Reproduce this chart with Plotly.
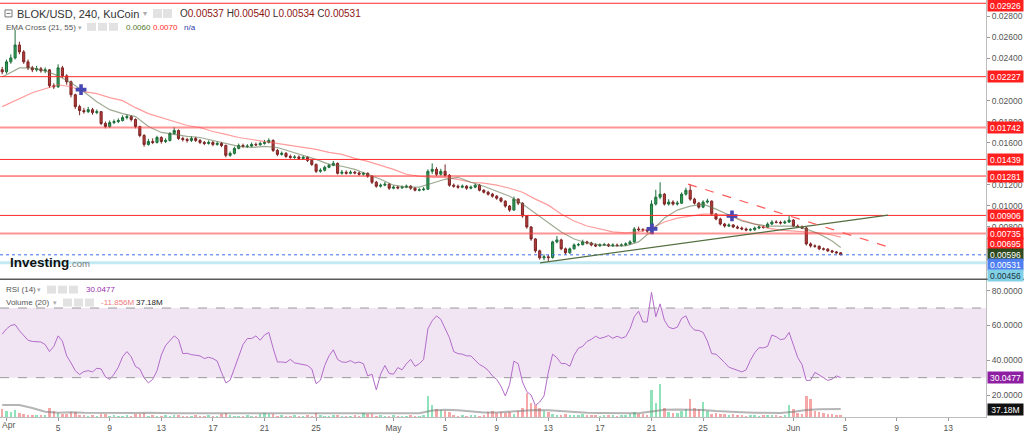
import plotly.graph_objects as go
import pandas as pd

# ---------------- data (8-hour candles) ----------------
candle_start = "2022-03-31 16:00"
opens = [
 0.02293, 0.02273, 0.02368, 0.02406, 0.02529, 0.02463, 0.02368, 0.02311, 0.02292, 0.02302,
 0.02283, 0.02292, 0.02141, 0.02131, 0.02311, 0.02235, 0.02178, 0.02055, 0.01942, 0.01904,
 0.01894, 0.01913, 0.01885, 0.01894, 0.01781, 0.01752, 0.01790, 0.01800, 0.01809, 0.01838,
 0.01847, 0.01819, 0.01752, 0.01667, 0.01582, 0.01610, 0.01601, 0.01648, 0.01610, 0.01620,
 0.01686, 0.01714, 0.01639, 0.01629, 0.01620, 0.01639, 0.01620, 0.01601, 0.01591, 0.01601,
 0.01582, 0.01591, 0.01572, 0.01478, 0.01497, 0.01544, 0.01572, 0.01563, 0.01566, 0.01582,
 0.01578, 0.01591, 0.01601, 0.01620, 0.01525, 0.01487, 0.01497, 0.01468, 0.01459, 0.01462,
 0.01449, 0.01459, 0.01430, 0.01392, 0.01326, 0.01336, 0.01364, 0.01383, 0.01402, 0.01307,
 0.01317, 0.01307, 0.01317, 0.01310, 0.01298, 0.01307, 0.01279, 0.01222, 0.01184, 0.01194,
 0.01203, 0.01165, 0.01175, 0.01168, 0.01175, 0.01184, 0.01165, 0.01146, 0.01150, 0.01156,
 0.01326, 0.01345, 0.01298, 0.01326, 0.01288, 0.01194, 0.01184, 0.01175, 0.01184, 0.01165,
 0.01175, 0.01194, 0.01146, 0.01127, 0.01108, 0.01089, 0.01070, 0.01042, 0.00995, 0.00957,
 0.01061, 0.01023, 0.00900, 0.00796, 0.00682, 0.00569, 0.00502, 0.00512, 0.00505, 0.00654,
 0.00673, 0.00588, 0.00550, 0.00588, 0.00625, 0.00628, 0.00654, 0.00644, 0.00625, 0.00616,
 0.00625, 0.00628, 0.00616, 0.00625, 0.00619, 0.00625, 0.00635, 0.00654, 0.00777, 0.00770,
 0.00767, 0.00758, 0.01014, 0.01080, 0.01108, 0.01014, 0.01033, 0.01014, 0.01023, 0.01108,
 0.01146, 0.01061, 0.01023, 0.00985, 0.01033, 0.01042, 0.00919, 0.00872, 0.00824, 0.00805,
 0.00815, 0.00796, 0.00786, 0.00777, 0.00767, 0.00770, 0.00786, 0.00796, 0.00793, 0.00824,
 0.00843, 0.00840, 0.00834, 0.00843, 0.00862, 0.00805, 0.00796, 0.00786, 0.00635, 0.00616,
 0.00612, 0.00588, 0.00585, 0.00569, 0.00559, 0.00550]
highs = [
 0.02320, 0.02390, 0.02440, 0.02671, 0.02560, 0.02480, 0.02390, 0.02330, 0.02330, 0.02320,
 0.02315, 0.02300, 0.02165, 0.02345, 0.02330, 0.02250, 0.02190, 0.02065, 0.01960, 0.01930,
 0.01940, 0.01930, 0.01915, 0.01900, 0.01800, 0.01810, 0.01820, 0.01830, 0.01860, 0.01870,
 0.01860, 0.01830, 0.01760, 0.01680, 0.01635, 0.01640, 0.01665, 0.01660, 0.01640, 0.01700,
 0.01745, 0.01725, 0.01655, 0.01645, 0.01660, 0.01655, 0.01635, 0.01615, 0.01620, 0.01615,
 0.01610, 0.01605, 0.01580, 0.01515, 0.01560, 0.01590, 0.01590, 0.01585, 0.01600, 0.01600,
 0.01610, 0.01625, 0.01640, 0.01630, 0.01540, 0.01515, 0.01510, 0.01485, 0.01480, 0.01478,
 0.01475, 0.01470, 0.01440, 0.01400, 0.01355, 0.01380, 0.01400, 0.01425, 0.01410, 0.01340,
 0.01335, 0.01335, 0.01330, 0.01325, 0.01320, 0.01315, 0.01290, 0.01235, 0.01210, 0.01225,
 0.01215, 0.01190, 0.01190, 0.01190, 0.01200, 0.01195, 0.01175, 0.01165, 0.01175, 0.01345,
 0.01402, 0.01365, 0.01350, 0.01392, 0.01300, 0.01210, 0.01200, 0.01200, 0.01195, 0.01190,
 0.01210, 0.01205, 0.01155, 0.01140, 0.01120, 0.01100, 0.01080, 0.01050, 0.01005, 0.01085,
 0.01070, 0.01030, 0.00910, 0.00805, 0.00690, 0.00580, 0.00535, 0.00530, 0.00665, 0.00710,
 0.00685, 0.00600, 0.00600, 0.00640, 0.00645, 0.00675, 0.00665, 0.00655, 0.00640, 0.00640,
 0.00645, 0.00640, 0.00640, 0.00638, 0.00640, 0.00650, 0.00670, 0.00795, 0.00800, 0.00785,
 0.00780, 0.01050, 0.01150, 0.01222, 0.01120, 0.01060, 0.01050, 0.01045, 0.01125, 0.01170,
 0.01203, 0.01075, 0.01035, 0.01050, 0.01065, 0.01050, 0.00930, 0.00885, 0.00835, 0.00830,
 0.00825, 0.00810, 0.00800, 0.00790, 0.00785, 0.00800, 0.00810, 0.00810, 0.00840, 0.00860,
 0.00860, 0.00855, 0.00860, 0.00900, 0.00870, 0.00820, 0.00810, 0.00795, 0.00650, 0.00630,
 0.00622, 0.00600, 0.00595, 0.00578, 0.00568, 0.00558]
lows = [
 0.02250, 0.02255, 0.02350, 0.02390, 0.02440, 0.02350, 0.02290, 0.02270, 0.02275, 0.02265,
 0.02260, 0.02120, 0.02110, 0.02120, 0.02215, 0.02150, 0.02030, 0.01920, 0.01860, 0.01875,
 0.01880, 0.01865, 0.01870, 0.01765, 0.01735, 0.01740, 0.01775, 0.01785, 0.01800, 0.01820,
 0.01800, 0.01735, 0.01650, 0.01560, 0.01570, 0.01585, 0.01590, 0.01590, 0.01595, 0.01610,
 0.01675, 0.01625, 0.01610, 0.01600, 0.01605, 0.01605, 0.01585, 0.01575, 0.01580, 0.01565,
 0.01570, 0.01555, 0.01460, 0.01465, 0.01485, 0.01535, 0.01550, 0.01548, 0.01555, 0.01565,
 0.01570, 0.01580, 0.01590, 0.01510, 0.01470, 0.01475, 0.01455, 0.01445, 0.01445, 0.01435,
 0.01438, 0.01415, 0.01378, 0.01310, 0.01312, 0.01325, 0.01355, 0.01375, 0.01295, 0.01295,
 0.01295, 0.01298, 0.01298, 0.01285, 0.01285, 0.01265, 0.01205, 0.01170, 0.01170, 0.01185,
 0.01150, 0.01155, 0.01155, 0.01160, 0.01165, 0.01150, 0.01135, 0.01135, 0.01140, 0.01148,
 0.01300, 0.01280, 0.01285, 0.01275, 0.01180, 0.01170, 0.01160, 0.01165, 0.01150, 0.01155,
 0.01165, 0.01135, 0.01115, 0.01095, 0.01075, 0.01055, 0.01030, 0.00980, 0.00940, 0.00950,
 0.01005, 0.00885, 0.00780, 0.00665, 0.00550, 0.00485, 0.00480, 0.00464, 0.00495, 0.00640,
 0.00575, 0.00535, 0.00540, 0.00580, 0.00612, 0.00620, 0.00630, 0.00612, 0.00605, 0.00608,
 0.00615, 0.00605, 0.00608, 0.00608, 0.00610, 0.00615, 0.00625, 0.00645, 0.00755, 0.00750,
 0.00740, 0.00745, 0.01000, 0.01060, 0.01000, 0.01000, 0.01000, 0.01000, 0.01015, 0.01095,
 0.01045, 0.01010, 0.00970, 0.00975, 0.01020, 0.00905, 0.00860, 0.00810, 0.00790, 0.00795,
 0.00785, 0.00775, 0.00765, 0.00755, 0.00755, 0.00760, 0.00775, 0.00780, 0.00785, 0.00815,
 0.00830, 0.00820, 0.00825, 0.00835, 0.00795, 0.00785, 0.00775, 0.00620, 0.00600, 0.00598,
 0.00575, 0.00572, 0.00558, 0.00548, 0.00540, 0.00528]
closes = [
 0.02273, 0.02368, 0.02406, 0.02529, 0.02463, 0.02368, 0.02311, 0.02292, 0.02302, 0.02283,
 0.02292, 0.02141, 0.02131, 0.02311, 0.02235, 0.02178, 0.02055, 0.01942, 0.01904, 0.01894,
 0.01913, 0.01885, 0.01894, 0.01781, 0.01752, 0.01790, 0.01800, 0.01809, 0.01838, 0.01847,
 0.01819, 0.01752, 0.01667, 0.01582, 0.01610, 0.01601, 0.01648, 0.01610, 0.01620, 0.01686,
 0.01714, 0.01639, 0.01629, 0.01620, 0.01639, 0.01620, 0.01601, 0.01591, 0.01601, 0.01582,
 0.01591, 0.01572, 0.01478, 0.01497, 0.01544, 0.01572, 0.01563, 0.01566, 0.01582, 0.01578,
 0.01591, 0.01601, 0.01620, 0.01525, 0.01487, 0.01497, 0.01468, 0.01459, 0.01462, 0.01449,
 0.01459, 0.01430, 0.01392, 0.01326, 0.01336, 0.01364, 0.01383, 0.01402, 0.01307, 0.01317,
 0.01307, 0.01317, 0.01310, 0.01298, 0.01307, 0.01279, 0.01222, 0.01184, 0.01194, 0.01203,
 0.01165, 0.01175, 0.01168, 0.01175, 0.01184, 0.01165, 0.01146, 0.01150, 0.01156, 0.01326,
 0.01345, 0.01298, 0.01326, 0.01288, 0.01194, 0.01184, 0.01175, 0.01184, 0.01165, 0.01175,
 0.01194, 0.01146, 0.01127, 0.01108, 0.01089, 0.01070, 0.01042, 0.00995, 0.00957, 0.01061,
 0.01023, 0.00900, 0.00796, 0.00682, 0.00569, 0.00502, 0.00512, 0.00505, 0.00654, 0.00673,
 0.00588, 0.00550, 0.00588, 0.00625, 0.00628, 0.00654, 0.00644, 0.00625, 0.00616, 0.00625,
 0.00628, 0.00616, 0.00625, 0.00619, 0.00625, 0.00635, 0.00654, 0.00777, 0.00770, 0.00767,
 0.00758, 0.01014, 0.01080, 0.01108, 0.01014, 0.01033, 0.01014, 0.01023, 0.01108, 0.01146,
 0.01061, 0.01023, 0.00985, 0.01033, 0.01042, 0.00919, 0.00872, 0.00824, 0.00805, 0.00815,
 0.00796, 0.00786, 0.00777, 0.00767, 0.00770, 0.00786, 0.00796, 0.00793, 0.00824, 0.00843,
 0.00840, 0.00834, 0.00843, 0.00862, 0.00805, 0.00796, 0.00786, 0.00635, 0.00616, 0.00612,
 0.00588, 0.00585, 0.00569, 0.00559, 0.00550, 0.00531]
volumes_m = [
 37, 28, 23, 33, 19, 14, 9, 9, 9, 9,
 9, 46, 28, 19, 14, 14, 23, 23, 9, 9,
 7, 9, 7, 14, 14, 7, 9, 5, 7, 9,
 7, 14, 14, 19, 7, 9, 7, 5, 9, 7,
 9, 12, 7, 5, 7, 9, 5, 7, 9, 5,
 7, 14, 19, 9, 7, 5, 7, 9, 5, 7,
 14, 19, 14, 14, 7, 9, 5, 7, 9, 7,
 5, 9, 7, 19, 9, 7, 5, 9, 12, 7,
 5, 7, 9, 7, 19, 14, 14, 7, 9, 5,
 7, 9, 7, 5, 7, 9, 7, 5, 9, 102,
 56, 37, 33, 28, 23, 9, 7, 9, 7, 9,
 9, 7, 9, 23, 28, 19, 23, 19, 23, 14,
 28, 46, 112, 65, 56, 42, 28, 23, 14, 12,
 9, 14, 9, 12, 9, 14, 9, 12, 9, 7,
 9, 12, 9, 7, 9, 12, 14, 23, 14, 14,
 12, 126, 65, 158, 46, 23, 19, 19, 28, 37,
 88, 46, 37, 74, 28, 14, 19, 14, 14, 9,
 14, 9, 9, 7, 9, 9, 7, 9, 12, 9,
 9, 7, 9, 56, 37, 19, 14, 102, 88, 28,
 23, 19, 14, 14, 9, 9]
rsi14 = [
 55, 58, 60, 60.5, 57, 54.5, 51.5, 50.8, 50.5, 50.5,
 49, 45, 48, 54, 51, 42.5, 38.5, 34, 31.8, 33.5,
 34, 33.3, 35.4, 35, 30.5, 29, 32, 36, 42, 45,
 42, 36.4, 35, 30, 27, 29, 34, 43, 48.5, 51.5,
 54, 52, 43.8, 44, 43.2, 42.9, 42.5, 41, 41.7, 41,
 39.5, 33, 27, 28.5, 35, 42, 49, 52.5, 52.5, 54,
 51.5, 54.5, 56, 47, 39, 39, 38.7, 40.5, 38.5, 38,
 37.5, 37, 35, 26.5, 28.5, 37, 42.5, 46, 40.5, 39,
 38.8, 39.8, 38.4, 39, 38, 31, 32, 23, 32, 37,
 32.4, 32, 35.8, 34.5, 38, 40.5, 36.5, 38, 40.5, 58,
 62.7, 65.5, 63.5, 58, 53, 45, 43.8, 43.5, 42.5, 42.5,
 40, 37.5, 36.2, 34.2, 31, 29, 25, 19.5, 26, 39.5,
 38, 27.5, 22, 20, 14, 16, 19.5, 33, 43.5, 41.5,
 38.1, 38.1, 36.5, 42.9, 46.9, 48, 50.8, 52, 53.8, 52.5,
 53.2, 54.2, 52.6, 53.8, 52.7, 53.5, 58, 65, 68.2, 62,
 62, 79, 65, 72.4, 63, 59, 58.1, 59, 64, 65.5,
 60, 57.3, 57.1, 56, 51, 43.8, 43.5, 41.2, 38.7, 36,
 35.2, 34, 33.3, 34.5, 40, 44.3, 47.2, 47.1, 48, 54.5,
 53.5, 51.8, 52.4, 56, 49, 41.6, 37.5, 28.4, 28.5, 33,
 31.6, 30, 28.4, 29.2, 31, 30.0477]

# daily samples of the indicator lines
ema_times = (["2022-03-31 16:00"]
             + [d.strftime("%Y-%m-%d") for d in pd.date_range("2022-04-01", "2022-06-04", freq="D")]
             + ["2022-06-04 16:00"])
ema21 = [
 0.02226, 0.02245, 0.02311, 0.02311, 0.02283, 0.02235, 0.02169, 0.02084, 0.01989, 0.01913,
 0.01875, 0.01847, 0.01752, 0.01696, 0.01677, 0.01658, 0.01648, 0.01620, 0.01591, 0.01563,
 0.01553, 0.01563, 0.01553, 0.01516, 0.01478, 0.01440, 0.01392, 0.01374, 0.01345, 0.01298,
 0.01250, 0.01194, 0.01175, 0.01175, 0.01213, 0.01250, 0.01269, 0.01222, 0.01184, 0.01137,
 0.01089, 0.01014, 0.00928, 0.00834, 0.00749, 0.00682, 0.00644, 0.00625, 0.00616, 0.00616,
 0.00654, 0.00758, 0.00881, 0.00957, 0.00995, 0.01014, 0.00966, 0.00910, 0.00853, 0.00824,
 0.00805, 0.00805, 0.00805, 0.00777, 0.00730, 0.00663, 0.00600]
ema55 = [
 0.01942, 0.01961, 0.02017, 0.02074, 0.02112, 0.02150, 0.02131, 0.02084, 0.02065, 0.02027,
 0.01999, 0.01932, 0.01875, 0.01838, 0.01800, 0.01762, 0.01743, 0.01705, 0.01677, 0.01648,
 0.01629, 0.01610, 0.01591, 0.01572, 0.01553, 0.01535, 0.01506, 0.01487, 0.01449, 0.01421,
 0.01383, 0.01345, 0.01298, 0.01279, 0.01269, 0.01269, 0.01250, 0.01222, 0.01213, 0.01194,
 0.01165, 0.01127, 0.01061, 0.01004, 0.00919, 0.00853, 0.00805, 0.00777, 0.00749, 0.00739,
 0.00749, 0.00786, 0.00843, 0.00881, 0.00900, 0.00919, 0.00919, 0.00910, 0.00862, 0.00824,
 0.00786, 0.00767, 0.00758, 0.00749, 0.00739, 0.00720, 0.00700]
vol_ma_m = [
 56, 56, 56, 42, 25, 20, 22, 20, 19, 18,
 18, 19, 20, 18, 18, 18, 17, 17, 18, 18,
 18, 19, 19, 18, 18, 19, 18, 18, 18, 19,
 19, 18, 18, 18, 30, 34, 32, 25, 21, 21,
 24, 28, 33, 32, 27, 22, 20, 19, 18, 18,
 18, 26, 34, 35, 35, 33, 28, 24, 22, 20,
 19, 19, 25, 33, 36, 37, 37.18]

cross_times = ["2022-04-06 18:40", "2022-05-21 01:00", "2022-05-27 05:45"]
cross_prices = [0.02104, 0.00778, 0.00901]

support_times = ["2022-05-12 08:40", "2022-06-08 08:00"]
support_prices = [0.00455, 0.00909]
resist_times = ["2022-05-23 20:00", "2022-06-08 08:00"]
resist_prices = [0.01204, 0.00607]

thin_levels = [0.02926, 0.02227, 0.01439, 0.01281, 0.00906]
thick_levels = [0.01742, 0.00735]
last_price = 0.00531
low_level = 0.00456

price_ticks = [0.028, 0.026, 0.024, 0.020, 0.018, 0.016, 0.012, 0.010, 0.008]
rsi_ticks = [20, 40, 60, 80]

tick_dates = ["2022-04-01", "2022-04-05", "2022-04-09", "2022-04-13", "2022-04-17", "2022-04-21",
              "2022-04-25", "2022-05-01", "2022-05-05", "2022-05-09", "2022-05-13", "2022-05-17",
              "2022-05-21", "2022-05-25", "2022-06-01", "2022-06-05", "2022-06-09", "2022-06-13"]
tick_text = ["Apr", "5", "9", "13", "17", "21", "25", "May", "5", "9", "13", "17", "21", "25",
             "Jun", "5", "9", "13"]

# right-axis value boxes: (value, background, text colour, vertical nudge in px)
price_boxes = [
    (0.02926, "#ff1f1f", "white", -2), (0.02227, "#ff1f1f", "white", 0),
    (0.01742, "#ff1f1f", "white", 0), (0.01439, "#ff1f1f", "white", 0),
    (0.01281, "#ff1f1f", "white", 0), (0.00906, "#ff1f1f", "white", 0),
    (0.00735, "#ff1f1f", "white", 0), (0.00695, "#ff1f1f", "white", -6),
    (0.00596, "#2d4a1e", "white", -7), (0.00531, "#4f7ff0", "white", -10),
    (0.00456, "#82d0e6", "#1b3440", -13),
]

# ---------------- figure ----------------
W, H = 1024, 433
PW, PH = 986, 419


def pxx(x):
    return x / PW


def pxy(y):
    return 1 - y / PH


times = pd.date_range(candle_start, periods=len(closes), freq="8h")
x_range = ["2022-03-31 11:54", "2022-06-15 22:20"]
FONT = "Arial, Liberation Sans, sans-serif"

fig = go.Figure()
fig.add_trace(go.Candlestick(
    x=times, open=opens, high=highs, low=lows, close=closes,
    increasing=dict(line=dict(color="#1d6e3a", width=1), fillcolor="#2f9e58"),
    decreasing=dict(line=dict(color="#7e2424", width=1), fillcolor="#b63b3b"),
    whiskerwidth=0, xaxis="x", yaxis="y", showlegend=False, hoverinfo="skip"))
fig.add_trace(go.Scatter(x=ema_times, y=ema55, mode="lines",
                         line=dict(color="rgba(255,90,90,0.6)", width=1.2),
                         xaxis="x", yaxis="y", hoverinfo="skip"))
fig.add_trace(go.Scatter(x=ema_times, y=ema21, mode="lines",
                         line=dict(color="rgba(95,115,75,0.6)", width=1.2),
                         xaxis="x", yaxis="y", hoverinfo="skip"))
fig.add_trace(go.Scatter(x=cross_times, y=cross_prices, mode="markers",
                         marker=dict(symbol="cross", size=9, color="#4848b4", line=dict(width=0)),
                         xaxis="x", yaxis="y", hoverinfo="skip"))

vol_colors = ["#8fe2b9" if c >= o else "#f6a8a8" for o, c in zip(opens, closes)]
fig.add_trace(go.Bar(x=times, y=volumes_m, marker=dict(color=vol_colors, line=dict(width=0)),
                     width=8 * 3600 * 1000 * 0.6, xaxis="x2", yaxis="y3", hoverinfo="skip"))
fig.add_trace(go.Scatter(x=ema_times, y=vol_ma_m, mode="lines",
                         line=dict(color="rgba(120,120,120,0.55)", width=2),
                         xaxis="x2", yaxis="y3", hoverinfo="skip"))
fig.add_trace(go.Scatter(x=times, y=rsi14, mode="lines",
                         line=dict(color="#b26bc8", width=1),
                         xaxis="x2", yaxis="y2", hoverinfo="skip"))

shapes = []
for lv in thin_levels:
    shapes.append(dict(type="line", xref="paper", x0=0, x1=1, yref="y", y0=lv, y1=lv,
                       line=dict(color="#ff2a2a", width=1)))
for lv in thick_levels:
    shapes.append(dict(type="line", xref="paper", x0=0, x1=1, yref="y", y0=lv, y1=lv,
                       line=dict(color="rgba(255,60,60,0.55)", width=2)))
shapes.append(dict(type="line", xref="paper", x0=0, x1=1, yref="y", y0=low_level, y1=low_level,
                   line=dict(color="#c3eaf3", width=3)))
shapes.append(dict(type="line", xref="paper", x0=0, x1=1, yref="y", y0=last_price, y1=last_price,
                   line=dict(color="#3f6fe6", width=1, dash="dot")))
shapes.append(dict(type="line", xref="x", yref="y", x0=support_times[0], x1=support_times[1],
                   y0=support_prices[0], y1=support_prices[1], line=dict(color="#536e3f", width=1.2)))
shapes.append(dict(type="line", xref="x", yref="y", x0=resist_times[0], x1=resist_times[1],
                   y0=resist_prices[0], y1=resist_prices[1],
                   line=dict(color="#ff5a5a", width=1.2, dash="dash")))
# RSI band and bounds
shapes.append(dict(type="rect", xref="paper", x0=0, x1=1, yref="y2", y0=30, y1=70,
                   fillcolor="#f1e5f4", line=dict(width=0), layer="below"))
for lv in (70, 30):
    shapes.append(dict(type="line", xref="paper", x0=0, x1=1, yref="y2", y0=lv, y1=lv,
                       line=dict(color="#9a9a9a", width=1, dash="dash")))
# pane separator
shapes.append(dict(type="line", xref="paper", x0=0, x1=W / PW, yref="paper",
                   y0=pxy(280.5), y1=pxy(280.5), line=dict(color="#5a5a5a", width=1.5)))
# small header buttons
header_icons = [(153, 9, 162, 18), (163, 9, 172, 18),
                (87, 23, 96, 31), (98, 23, 107, 31), (109, 23, 118, 31),
                (47, 287, 56, 295), (58, 287, 67, 295), (69, 287, 78, 295),
                (63, 300, 72, 308), (74, 300, 83, 308), (85, 300, 94, 308)]
for x0, y0, x1, y1 in header_icons:
    shapes.append(dict(type="rect", xref="paper", yref="paper", x0=pxx(x0), x1=pxx(x1),
                       y0=pxy(y1), y1=pxy(y0), fillcolor="#e2e2e2", line=dict(width=0)))
shapes.append(dict(type="rect", xref="paper", yref="paper", x0=pxx(5), x1=pxx(12),
                   y0=pxy(17), y1=pxy(10), line=dict(color="#777", width=1)))
shapes.append(dict(type="line", xref="paper", yref="paper", x0=pxx(6.5), x1=pxx(10.5),
                   y0=pxy(13.5), y1=pxy(13.5), line=dict(color="#777", width=1)))

ann = []


def text(x, y, s, size=8, color="#555", anchor="left"):
    ann.append(dict(xref="paper", yref="paper", x=pxx(x), y=pxy(y), xanchor=anchor,
                    yanchor="middle", text=s, showarrow=False,
                    font=dict(size=size, color=color, family=FONT)))


text(15, 14, "BLOK/USD, 240, KuCoin", size=11, color="#333")
text(141, 14, "▾", size=8, color="#aaa")
vc = "#8f1414"
text(178, 14, ("O<span style='color:%s'>0.00537</span> H<span style='color:%s'>0.00540</span> "
               "L<span style='color:%s'>0.00534</span> C<span style='color:%s'>0.00531</span>")
     % (vc, vc, vc, vc), size=10, color="#333")
text(4, 28, "EMA Cross (21, 55)", size=8, color="#555")
text(76, 28, "▾", size=7, color="#aaa")
text(124, 28, "0.0060", size=8, color="#4f7a2c")
text(151, 28, "0.0070", size=8, color="#ff2a2a")
text(182, 28, "n/a", size=8, color="#2a3aa8")
text(4, 291, "RSI (14)", size=8, color="#555")
text(35, 291, "▾", size=7, color="#aaa")
text(84, 291, "30.0477", size=8, color="#9a2fb0")
text(4, 304, "Volume (20)", size=8, color="#555")
text(51, 304, "▾", size=7, color="#aaa")
text(99, 304, "-11.856M", size=8, color="#f07a7a")
text(134, 304, "37.18M", size=8, color="#222")
# first date label sits at the very left edge, drawn as text so it is not dropped
text(8, 427, tick_text[0], size=8.5, color="#555", anchor="center")
ann.append(dict(xref="paper", yref="paper", x=pxx(8), y=pxy(264), xanchor="left", yanchor="middle",
                text="<b>Investing</b><span style='font-size:9.5px;color:#7a7a7a'>.com</span>",
                showarrow=False, font=dict(size=13.5, color="#111", family=FONT)))

for val, bg, fg, nudge in price_boxes:
    ann.append(dict(xref="paper", x=1, xanchor="left", xshift=1, yref="y", y=val, yshift=nudge,
                    yanchor="middle", text="%.5f" % val, showarrow=False, bgcolor=bg, borderpad=0,
                    width=35, height=11, align="center", valign="middle",
                    font=dict(size=8.5, color=fg, family=FONT)))
ann.append(dict(xref="paper", x=1, xanchor="left", xshift=1, yref="y2", y=30.0477,
                yanchor="middle", text="30.0477", showarrow=False, bgcolor="#8e1fa3", borderpad=0,
                width=35, height=11, align="center", valign="middle",
                font=dict(size=8.5, color="white", family=FONT)))
ann.append(dict(xref="paper", x=1, xanchor="left", xshift=1, yref="y3", y=37.18,
                yanchor="middle", text="37.18M", showarrow=False, bgcolor="#111111", borderpad=0,
                width=35, height=11, align="center", valign="middle",
                font=dict(size=8.5, color="white", family=FONT)))

axis_font = dict(size=8.5, color="#555", family=FONT)
fig.update_layout(
    width=W, height=H, autosize=False,
    margin=dict(l=0, r=W - PW, t=0, b=H - PH, pad=0),
    paper_bgcolor="white", plot_bgcolor="white", showlegend=False, bargap=0,
    xaxis=dict(domain=[0, 1], anchor="y", range=x_range, showticklabels=False, ticks="",
               showgrid=False, zeroline=False, showline=False, rangeslider=dict(visible=False)),
    xaxis2=dict(domain=[0, 1], anchor="y2", matches="x", range=x_range, tickmode="array",
                tickvals=tick_dates, ticktext=[""] + tick_text[1:], ticks="outside", ticklen=3,
                tickcolor="#999", tickfont=axis_font, showgrid=False, zeroline=False,
                showline=True, linecolor="#bdbdbd"),
    yaxis=dict(domain=[1 - 280 / PH, 1], anchor="x", range=[0.00304, 0.02957], side="right",
               tickmode="array", tickvals=price_ticks, tickformat=".5f", ticks="outside",
               ticklen=3, tickcolor="#999", tickfont=axis_font, showgrid=False, zeroline=False,
               showline=True, linecolor="#bdbdbd"),
    yaxis2=dict(domain=[0, 1 - 281 / PH], anchor="x2", range=[7.4, 86.3], side="right",
                tickmode="array", tickvals=rsi_ticks, tickformat=".4f", ticks="outside",
                ticklen=3, tickcolor="#999", tickfont=axis_font, showgrid=False, zeroline=False,
                showline=True, linecolor="#bdbdbd"),
    yaxis3=dict(overlaying="y2", anchor="x2", range=[0, 642], visible=False),
    shapes=shapes, annotations=ann,
)

fig.write_html("out.html", config={"displayModeBar": False})
